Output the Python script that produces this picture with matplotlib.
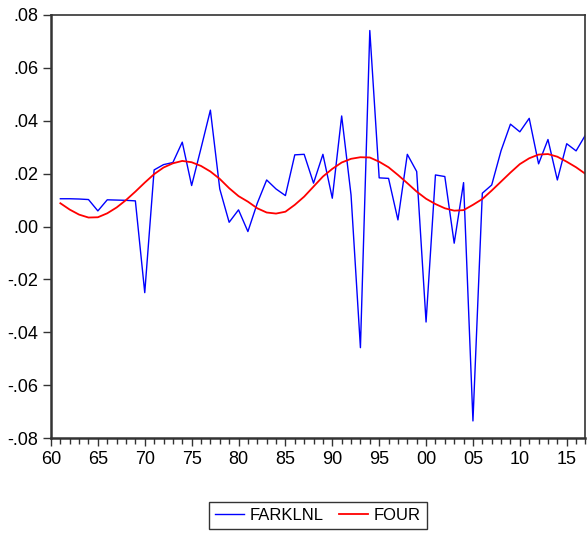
import numpy as np
import matplotlib
matplotlib.use("Agg")
from matplotlib import pyplot as plt
from matplotlib.ticker import FixedLocator, MultipleLocator, FuncFormatter

years = np.arange(1961, 2018)

farklnl = [0.0105, 0.0105, 0.0104, 0.0102, 0.0059, 0.0101, 0.0100, 0.0099, 0.0097, -0.0250,
           0.0214, 0.0234, 0.0242, 0.0319, 0.0155, 0.0296, 0.0440, 0.0142, 0.0016, 0.0063,
           -0.0019, 0.0088, 0.0176, 0.0142, 0.0117, 0.0271, 0.0273, 0.0164, 0.0273, 0.0107,
           0.0418, 0.0119, -0.0458, 0.0741, 0.0184, 0.0182, 0.0025, 0.0273, 0.0208, -0.0361,
           0.0195, 0.0189, -0.0063, 0.0166, -0.0735, 0.0126, 0.0157, 0.0287, 0.0387, 0.0358,
           0.0409, 0.0237, 0.0329, 0.0176, 0.0313, 0.0286, 0.0346]

four = [0.0088, 0.0064, 0.0045, 0.0034, 0.0035, 0.0050, 0.0072, 0.0100, 0.0132, 0.0166,
        0.0198, 0.0223, 0.0239, 0.0248, 0.0243, 0.0229, 0.0208, 0.0180, 0.0145, 0.0115,
        0.0094, 0.0069, 0.0053, 0.0049, 0.0056, 0.0082, 0.0113, 0.0151, 0.0189, 0.0218,
        0.0242, 0.0256, 0.0262, 0.0261, 0.0245, 0.0224, 0.0195, 0.0164, 0.0132, 0.0105,
        0.0085, 0.0069, 0.0060, 0.0062, 0.0082, 0.0104, 0.0136, 0.0170, 0.0204, 0.0236,
        0.0258, 0.0272, 0.0274, 0.0264, 0.0245, 0.0224, 0.0199]

yticks = [-0.08, -0.06, -0.04, -0.02, 0.0, 0.02, 0.04, 0.06, 0.08]
xticks = [1960, 1965, 1970, 1975, 1980, 1985, 1990, 1995, 2000, 2005, 2010, 2015]

plt.rcParams['font.family'] = ['Liberation Sans', 'DejaVu Sans']

fig = plt.figure(figsize=(5.88, 5.33), dpi=100)
ax = fig.add_axes([0.0867, 0.178, 0.909, 0.794])

ax.plot(years, farklnl, color='#0000ff', lw=1.0, label='FARKLNL')
ax.plot(years, four, color='#ff0000', lw=1.3, label='FOUR')

ax.set_xlim(1960, 2017)
ax.set_ylim(-0.08, 0.08)
ax.yaxis.set_major_locator(FixedLocator(yticks))
ax.yaxis.set_major_formatter(FuncFormatter(lambda v, p: ('%.2f' % v).replace('0.', '.')))
ax.xaxis.set_major_locator(FixedLocator(xticks))
ax.xaxis.set_minor_locator(MultipleLocator(1))
ax.xaxis.set_major_formatter(FuncFormatter(lambda v, p: '%02d' % (int(round(v)) % 100)))

ax.tick_params(axis='both', which='major', direction='out', length=6, width=1,
               color='#333333', labelsize=13, pad=3)
ax.tick_params(axis='x', which='minor', direction='out', length=4, width=1, color='#333333')
for s in ax.spines.values():
    s.set_color('#333333')
    s.set_linewidth(1.2)
ax.spines['left'].set_linewidth(1.8)
ax.spines['bottom'].set_linewidth(1.8)

leg = fig.legend(loc='center', bbox_to_anchor=(0.541, 0.0325), ncol=2, fontsize=12,
                 frameon=True, fancybox=False, edgecolor='#333333', framealpha=1,
                 handlelength=1.75, handletextpad=0.35, columnspacing=0.9,
                 borderpad=0.35, borderaxespad=0)
leg.get_frame().set_linewidth(1.0)

fig.savefig('out.png', dpi=100)
